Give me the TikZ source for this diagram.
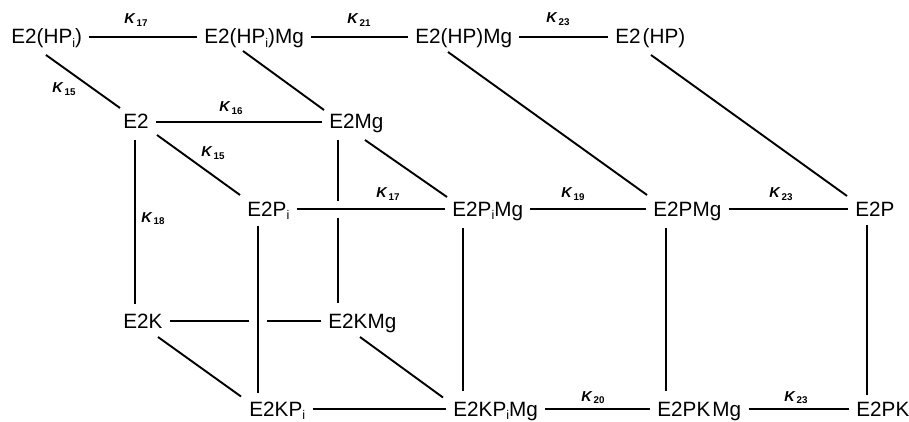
\documentclass[tikz,border=0pt]{standalone}
\usepackage{fontspec}
\setmainfont{Liberation Sans}
\usetikzlibrary{calc}
\newcommand\sbi{\raisebox{-1.6pt}{\fontsize{6.3}{6}\selectfont i}}
\newcommand\klab[1]{\fontsize{7.2}{8}\selectfont\bfseries\itshape K\kern0.9pt\raisebox{-1.4pt}{\upshape\bfseries\fontsize{4.9}{5}\selectfont #1}}
\begin{document}
\begin{tikzpicture}[x=0.5pt,y=-0.5pt,
  st/.style={anchor=base west, inner xsep=3.5pt, inner ysep=0pt, text height=8pt, text depth=0.6pt, font=\fontsize{10.35}{12}\selectfont},
  kl/.style={anchor=base west, inner sep=0pt},
  ln/.style={line width=0.95pt},
  halo/.style={draw=white, line width=#1}]
\useasboundingbox (0,0) rectangle (909,422);
% nodes
\node[st] (hpi)    at (4,44)      {E2(HP\sbi)};
\node[st] (hpimg)  at (197,44)    {E2(HP\sbi)Mg};
\node[st] (hpmg)   at (408,44)    {E2(HP)Mg};
\node[st] (hp)     at (608,44)    {E2\kern1pt(HP)};
\node[st] (e2)     at (116,129)   {E2};
\node[st] (e2mg)   at (322,129)   {E2Mg};
\node[st] (e2pi)   at (240,216.5) {E2P\sbi};
\node[st] (e2pimg) at (445,216.5) {E2P\sbi Mg};
\node[st] (e2pmg)  at (646,216.5) {E2PMg};
\node[st] (e2p)    at (848,216.5) {E2P};
\node[st] (e2k)    at (116,328.5) {E2K};
\node[st] (e2kmg)  at (321,328.5) {E2KMg};
\node[st] (e2kpi)  at (242,416)   {E2KP\sbi};
\node[st] (e2kpimg) at (446,416)  {E2KP\sbi Mg};
\node[st] (e2pkmg) at (650,416)   {E2PK\kern1pt Mg};
\node[st] (e2pk)   at (849,416)   {E2PK};
% labels
\node[kl] (k17a) at (124,24) {\klab{17}};
\node[kl] (k21)  at (347,24) {\klab{21}};
\node[kl] (k23a) at (546,23)   {\klab{23}};
\node[kl] (k15a) at (52,93)    {\klab{15}};
\node[kl] (k16)  at (219,112)  {\klab{16}};
\node[kl] (k15b) at (201,157)  {\klab{15}};
\node[kl] (k18)  at (141,222)  {\klab{18}};
\node[kl] (k17b) at (376,198)  {\klab{17}};
\node[kl] (k19)  at (561,198)  {\klab{19}};
\node[kl] (k23b) at (769,198)  {\klab{23}};
\node[kl] (k20)  at (581,401)  {\klab{20}};
\node[kl] (k23c) at (784,401)  {\klab{23}};
% horizontal connectors
\draw[ln] (hpi) -- (hpimg);
\draw[ln] (hpimg) -- (hpmg);
\draw[ln] (hpmg) -- (hp);
\draw[ln] (e2) -- (e2mg);
\draw[ln] (e2pimg) -- (e2pmg);
\draw[ln] (e2pmg) -- (e2p);
\draw[ln] (e2k) -- (e2kmg);
\draw[ln] (e2kpi) -- (e2kpimg);
\draw[ln] (e2kpimg) -- (e2pkmg);
\draw[ln] (e2pkmg) -- (e2pk);
% verticals
\draw[ln] ($(e2.south west)+(19,9)$) -- ($(e2.south west|-e2k.north)+(19,-8)$);
\draw[ln] ($(e2mg.south west)+(16,9)$) -- ($(e2mg.south west|-e2kmg.north)+(16,-9)$);
\draw[ln] ($(e2pimg.south west)+(18,10)$) -- ($(e2pimg.south west|-e2kpimg.north)+(18,-9)$);
\draw[ln] ($(e2pmg.south west)+(20,10)$) -- ($(e2pmg.south west|-e2pkmg.north)+(20,-9)$);
\draw[ln] ($(e2p.south west)+(19,7)$) -- ($(e2p.south west|-e2pk.north)+(19,-5)$);
% crossing connectors with gaps
\draw[ln, preaction={halo=8.5pt}] (e2pi) -- (e2pimg);
\draw[ln, preaction={halo=9pt}] ($(e2pi.south west)+(18,8)$) -- ($(e2pi.south west|-e2kpi.north)+(18,-7)$);
% diagonals
\draw[ln] ([shift={(42,11)}]hpi.base west) -- ([shift={(4,-21)}]e2.base west);
\draw[ln] ([shift={(46,7)}]hpimg.base west) -- ([shift={(2,-19)}]e2mg.base west);
\draw[ln] ([shift={(40,8)}]hpmg.base west) -- ([shift={(1,-21.5)}]e2pmg.base west);
\draw[ln] ([shift={(43,11)}]hp.base west) -- ([shift={(-1,-20.5)}]e2p.base west);
\draw[ln] ([shift={(41,6)}]e2.base west) -- ([shift={(0,-21.5)}]e2pi.base west);
\draw[ln] ([shift={(43,11)}]e2mg.base west) -- ([shift={(2,-19.5)}]e2pimg.base west);
\draw[ln] ([shift={(42,8.5)}]e2k.base west) -- ([shift={(-1,-19.5)}]e2kpi.base west);
\draw[ln] ([shift={(39,8.5)}]e2kmg.base west) -- ([shift={(-3,-18.5)}]e2kpimg.base west);
\end{tikzpicture}
\end{document}
